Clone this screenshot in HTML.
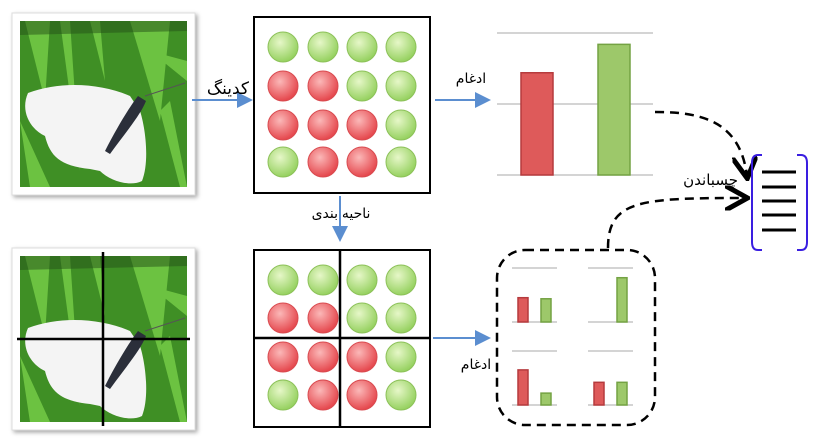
<!DOCTYPE html>
<html><head><meta charset="utf-8"><style>
html,body{margin:0;padding:0;background:#fff;width:816px;height:443px;overflow:hidden}
svg{display:block}
text{font-family:"Liberation Sans","DejaVu Sans",sans-serif;fill:#000}
</style></head><body>
<svg id="s" width="816" height="443" viewBox="0 0 816 443">
<defs>
<filter id="sh" x="-10%" y="-10%" width="130%" height="130%"><feDropShadow dx="2" dy="2" stdDeviation="2" flood-color="#000" flood-opacity="0.35"/></filter>
<radialGradient id="gG" cx="40%" cy="35%" r="65%"><stop offset="0" stop-color="#e6f7c8"/><stop offset="1" stop-color="#96d160"/></radialGradient>
<radialGradient id="gR" cx="40%" cy="35%" r="65%"><stop offset="0" stop-color="#fbb8b8"/><stop offset="1" stop-color="#e5474d"/></radialGradient>
<marker id="ab" markerWidth="8" markerHeight="8" refX="7" refY="4" orient="auto"><path d="M0,0 L8,4 L0,8 Z" fill="#5b8ed0"/></marker>
<marker id="ak" markerWidth="10" markerHeight="10" refX="8" refY="5" orient="auto"><path d="M0,0 L9,5 L0,10" fill="none" stroke="#000" stroke-width="2"/></marker>
<g id="photo">
<rect x="0" y="0" width="167" height="166" fill="#3f8f25"/>
<path d="M5,0 L25,80 L30,0Z M40,0 L60,150 L50,0Z M110,0 L140,100 L150,0Z M130,30 L167,60 L167,40Z M0,100 L30,166 L10,166Z M140,90 L160,166 L167,166 L150,80Z M70,0 L85,60 L80,0Z" fill="#6cc241"/>
<path d="M0,0 L167,0 L167,10 L0,14Z" fill="#244f17" opacity="0.5"/>
<path d="M110,75 C80,62 40,60 8,72 C0,90 10,108 25,115 C30,135 40,145 70,148 L80,150 C90,160 110,166 122,160 C130,140 125,105 120,90 Z" fill="#f4f4f4"/>
<path d="M118,75 C110,85 95,110 85,130 L90,133 C105,112 120,95 126,80 Z" fill="#2b2f3a"/>
<path d="M125,75 L165,62" stroke="#555" stroke-width="1" fill="none"/>
</g>
</defs>

<g>
<rect x="12" y="13" width="183" height="182" fill="#fff" filter="url(#sh)" stroke="#ddd"/>
<use href="#photo" x="20" y="21"/>
</g>
<g>
<rect x="12" y="248" width="183" height="182" fill="#fff" filter="url(#sh)" stroke="#ddd"/>
<use href="#photo" x="20" y="256"/>
<line x1="103" y1="252" x2="103" y2="426" stroke="#000" stroke-width="2.5"/>
<line x1="17" y1="339" x2="190" y2="339" stroke="#000" stroke-width="2.5"/>
</g>

<g id="gridTop">
<rect x="254" y="17" width="176" height="176" fill="#fff" stroke="#000" stroke-width="2"/>
</g>
<g id="gridBot">
<rect x="254" y="250" width="176" height="177" fill="#fff" stroke="#000" stroke-width="2"/>
</g>

<line x1="192" y1="100" x2="251" y2="100" stroke="#5b8ed0" stroke-width="2" marker-end="url(#ab)"/>
<text x="249" y="94" text-anchor="end" font-size="17">کدینگ</text>
<line x1="340" y1="196" x2="340" y2="240" stroke="#5b8ed0" stroke-width="2" marker-end="url(#ab)"/>
<text x="341" y="218" text-anchor="middle" font-size="14">ناحیه بندی</text>
<line x1="435" y1="100" x2="489" y2="100" stroke="#5b8ed0" stroke-width="2" marker-end="url(#ab)"/>
<text x="471" y="83" text-anchor="middle" font-size="14">ادغام</text>
<line x1="433" y1="338" x2="489" y2="338" stroke="#5b8ed0" stroke-width="2" marker-end="url(#ab)"/>
<text x="476" y="369" text-anchor="middle" font-size="14">ادغام</text>

<g id="bigChart"></g>
<rect x="497" y="250" width="158" height="175" rx="28" fill="none" stroke="#000" stroke-width="2.5" stroke-dasharray="9,6"/>
<g id="smallCharts"></g>

<path d="M655,112 C700,112 740,120 747,176" fill="none" stroke="#000" stroke-width="2.5" stroke-dasharray="9,6" marker-end="url(#ak)"/>
<path d="M608,248 C608,200 640,198 745,198" fill="none" stroke="#000" stroke-width="2.5" stroke-dasharray="9,6" marker-end="url(#ak)"/>
<text x="738" y="185" text-anchor="end" font-size="15">چسباندن</text>

<g>
<path d="M762,155 L758,155 Q752,155 752,163 L752,242 Q752,250 758,250 L762,250" fill="none" stroke="#3a1ee0" stroke-width="2"/>
<path d="M797,155 L801,155 Q807,155 807,163 L807,242 Q807,250 801,250 L797,250" fill="none" stroke="#3a1ee0" stroke-width="2"/>
<g stroke="#000" stroke-width="3"><line x1="762" y1="172" x2="796" y2="172"/><line x1="762" y1="187" x2="796" y2="187"/><line x1="762" y1="201" x2="796" y2="201"/><line x1="762" y1="215" x2="796" y2="215"/><line x1="762" y1="230" x2="796" y2="230"/></g>
</g>
</svg>
<script>
const gridTopColors=["G","G","G","G","R","R","G","G","R","R","R","G","G","R","R","G"];
const gridBotColors=["G","G","G","G","R","R","G","G","R","R","R","G","G","R","R","G"];
const bigRed=0.72, bigGreen=0.92;
const smallRed=[0.45,0,0.65,0.42];
const smallGreen=[0.43,0.82,0.22,0.42];
const NS="http://www.w3.org/2000/svg";
function mk(tag,a,p){const e=document.createElementNS(NS,tag);for(const k in a)e.setAttribute(k,a[k]);p.appendChild(e);return e;}
function grid(id,colors,x0,y0,xs,ys){const g=document.getElementById(id);
 colors.forEach((c,i)=>{const r=Math.floor(i/4),k=i%4;
  const e=mk('circle',{cx:x0+xs[k],cy:y0+ys[r],r:15,fill:c==="G"?"url(#gG)":"url(#gR)",stroke:c==="G"?"#8cc158":"#d94a4f","stroke-width":1},g);
  
  });}
grid('gridTop',gridTopColors,254,17,[29,69,108,147],[30,69,108,145]);
grid('gridBot',gridBotColors,254,250,[29,69,108,147],[30,68,107,145]);
const gb=document.getElementById('gridBot');
mk('line',{x1:340,y1:250,x2:340,y2:427,stroke:"#000","stroke-width":2.5},gb);
mk('line',{x1:254,y1:338,x2:430,y2:338,stroke:"#000","stroke-width":2.5},gb);
function chart(g,x0,x1,yTop,yBase,vals,xs,w,extraMid){
 mk('line',{x1:x0,y1:yTop,x2:x1,y2:yTop,stroke:"#bbb","stroke-width":1.3},g);
 if(extraMid!==undefined)mk('line',{x1:x0,y1:extraMid,x2:x1,y2:extraMid,stroke:"#bbb","stroke-width":1.3},g);
 mk('line',{x1:x0,y1:yBase,x2:x1,y2:yBase,stroke:"#bbb","stroke-width":1.3},g);
 vals.forEach((v,i)=>{if(v<=0)return;const h=v*(yBase-yTop);
  const b=mk('rect',{x:xs[i],y:yBase-h,width:w,height:h,fill:i===0?"#de5a5a":"#9dc86a",stroke:i===0?"#b53a3d":"#74a243","stroke-width":1.5},g);
  
  });}
chart(document.getElementById('bigChart'),497,653,33,175,[bigRed,bigGreen],[521,598],32,104);
const sc=document.getElementById('smallCharts');
const pos=[[512,268,322],[588,268,322],[512,351,405],[588,351,405]];
pos.forEach((p,i)=>{chart(sc,p[0],p[0]+45,p[1],p[2],[smallRed[i],smallGreen[i]],[p[0]+6,p[0]+29],10);});
</script>
</body></html>
